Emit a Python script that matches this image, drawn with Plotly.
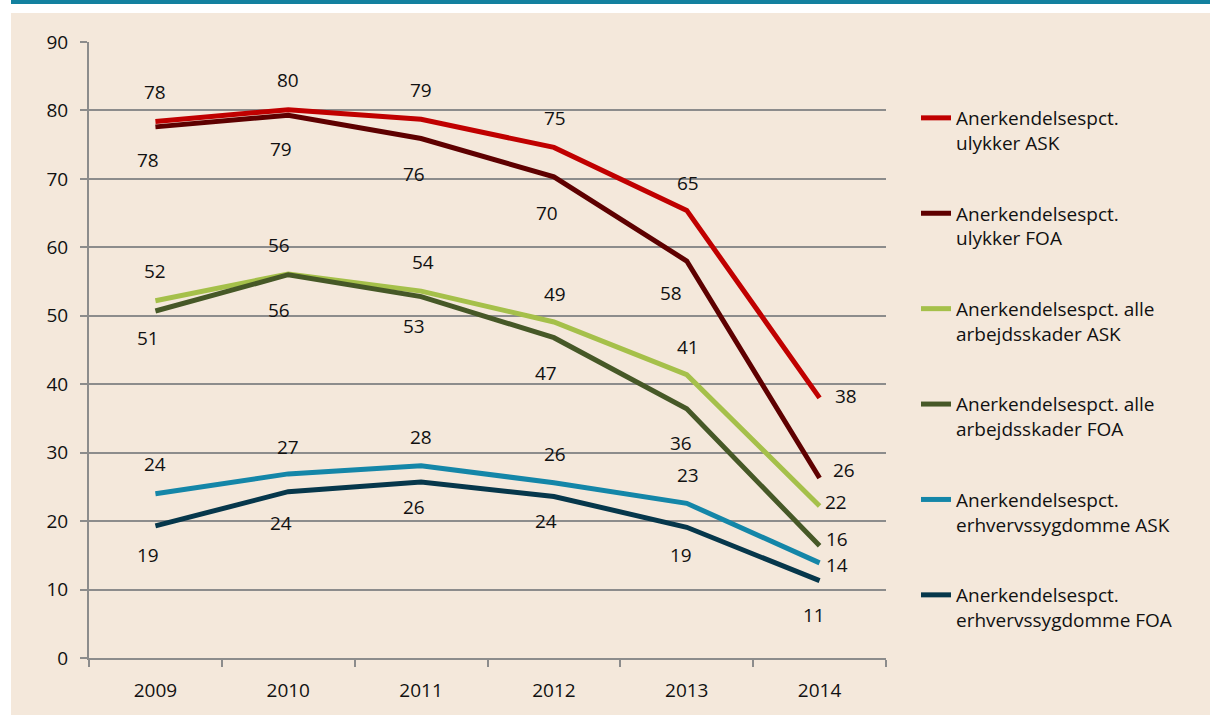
import plotly.graph_objects as go

years = ["2009", "2010", "2011", "2012", "2013", "2014"]

ulykker_ask = [78.4, 80.1, 78.7, 74.6, 65.4, 38.0]
ulykker_foa = [77.6, 79.3, 75.9, 70.3, 58.0, 26.3]
alle_ask = [52.2, 56.1, 53.6, 49.1, 41.4, 22.2]
alle_foa = [50.7, 56.0, 52.8, 46.8, 36.4, 16.4]
erhverv_ask = [24.0, 26.9, 28.1, 25.6, 22.6, 13.9]
erhverv_foa = [19.3, 24.3, 25.7, 23.6, 19.1, 11.3]

names = [
    "Anerkendelsespct.<br>ulykker ASK",
    "Anerkendelsespct.<br>ulykker FOA",
    "Anerkendelsespct. alle<br>arbejdsskader ASK",
    "Anerkendelsespct. alle<br>arbejdsskader FOA",
    "Anerkendelsespct.<br>erhvervssygdomme ASK",
    "Anerkendelsespct.<br>erhvervssygdomme FOA",
]
series = [ulykker_ask, ulykker_foa, alle_ask, alle_foa, erhverv_ask, erhverv_foa]

# styles
colors = ["#C00000", "#5E0000", "#A5C04A", "#465827", "#1486A8", "#06374B"]
# label pixel offsets (xshift, yshift) per point
offsets = [
    [(0, 29), (0, 30), (0, 29), (1, 29), (1, 27), (26, 2)],
    [(-7, -33), (-7, -34), (-7, -35), (-7, -36), (-16, -32), (24, 8)],
    [(0, 30), (-9, 29), (2, 29), (1, 28), (1, 28), (16, 4)],
    [(-7, -27), (-9, -35), (-7, -29), (-8, -35), (-6, -34), (17, 7)],
    [(0, 30), (0, 27), (0, 29), (1, 29), (1, 28), (17, -2)],
    [(-7, -29), (-7, -31), (-7, -25), (-8, -25), (-6, -28), (-6, -34)],
]

FONT = "Open Sans, Noto Sans, sans-serif"
FS = 19

W, H = 1210, 715
L, R, T, B = 89, 886, 42, 658  # plot area pixels

fig = go.Figure()
for i, (name, vals) in enumerate(zip(names, series)):
    fig.add_trace(go.Scatter(
        x=years, y=vals, mode="lines", name=name,
        line=dict(color=colors[i], width=5),
        legendgroup=f"g{i}",
        hoverinfo="skip",
    ))
    for j, v in enumerate(vals):
        dx, dy = offsets[i][j]
        fig.add_annotation(
            x=j, y=v, xref="x", yref="y", text=str(int(round(v))),
            showarrow=False, xshift=dx, yshift=dy,
            font=dict(family=FONT, size=FS, color="#111111"),
        )


def px_x(px):
    return (px - L) / (R - L)


def px_y(py):
    return (B - py) / (B - T)


shapes = [
    dict(type="rect", xref="paper", yref="paper",
         x0=px_x(11), x1=px_x(W + 20), y0=px_y(H + 20), y1=px_y(13),
         fillcolor="#F4E8DB", line=dict(width=0), layer="below"),
    dict(type="rect", xref="paper", yref="paper",
         x0=px_x(11), x1=px_x(W + 20), y0=px_y(4), y1=px_y(-10),
         fillcolor="#13819F", line=dict(width=0), layer="below"),
]

fig.update_layout(
    width=W, height=H,
    margin=dict(l=L, r=W - R, t=T, b=H - B, pad=0),
    paper_bgcolor="#FFFFFF",
    plot_bgcolor="rgba(0,0,0,0)",
    font=dict(family=FONT, size=FS, color="#111111"),
    shapes=shapes,
    showlegend=True,
    legend=dict(
        x=px_x(916), y=px_y(99), xanchor="left", yanchor="top",
        bgcolor="rgba(0,0,0,0)", borderwidth=0,
        font=dict(family=FONT, size=FS, color="#111111"),
        valign="top", tracegroupgap=43, traceorder="grouped",
    ),
    xaxis=dict(
        type="category", range=[-0.5, 5.5],
        showgrid=False, zeroline=False,
        showline=True, linecolor="#8C8C8C", linewidth=2,
        ticks="outside", ticklen=7, tickwidth=2, tickcolor="#8C8C8C",
        tickson="boundaries", ticklabelstandoff=14,
        tickfont=dict(family=FONT, size=FS, color="#111111"),
    ),
    yaxis=dict(
        range=[0, 90], dtick=10, tick0=0,
        showgrid=True, gridcolor="#8C8C8C", gridwidth=2,
        zeroline=False,
        showline=True, linecolor="#8C8C8C", linewidth=2,
        ticks="outside", ticklen=7, tickwidth=2, tickcolor="#8C8C8C",
        ticklabelstandoff=8,
        tickfont=dict(family=FONT, size=FS, color="#111111"),
    ),
)

fig.write_html(
    "out.html",
    config={"displayModeBar": False},
    post_script="document.body.style.margin='0';",
)
